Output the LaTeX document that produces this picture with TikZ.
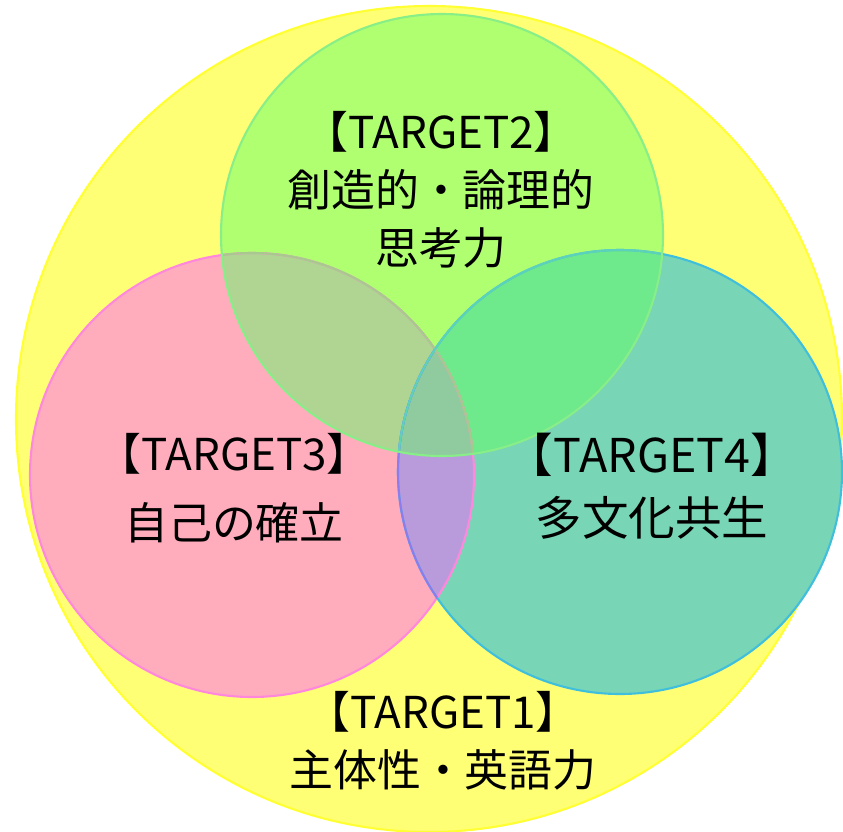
\documentclass[tikz,border=0pt]{standalone}
\usepackage{fontspec}
\setmainfont{Noto Sans CJK JP}
\usepackage{tikz}
\usetikzlibrary{positioning}

\definecolor{yfill}{HTML}{FFFF75}
\definecolor{yline}{HTML}{FFFF33}
\definecolor{pfill}{HTML}{FFADBC}
\definecolor{pline}{HTML}{FF88DD}
\definecolor{gfill}{HTML}{B0FF70}
\definecolor{gline}{HTML}{88EE88}
\definecolor{tfill}{HTML}{78D5B6}
\definecolor{tline}{HTML}{40BFDD}
\definecolor{gpfill}{HTML}{B0D592}
\definecolor{gtfill}{HTML}{6EE98B}
\definecolor{ptfill}{HTML}{B99BDC}
\definecolor{allfill}{HTML}{8FCB9F}

\def\ycirc{(429,419) circle[radius=413]}
\def\gcirc{(442,235) circle[radius=221]}
\def\pcirc{(252,475) circle[radius=222]}
\def\tcirc{(620,472) circle[radius=222]}

\begin{document}
\begin{tikzpicture}[x=0.02cm, y=-0.02cm,
rim/.style={line width=1.2pt},
tgtlabel/.style={align=center, text=black, font=\fontsize{25}{33}\selectfont}
]
    \useasboundingbox (0,0) rectangle (843,832);

    %Circles
    \fill[yfill] \ycirc;
    \draw[rim, yline] \ycirc;
    \fill[pfill] \pcirc;
    \fill[tfill] \tcirc;
    \fill[gfill] \gcirc;

    %Overlaps
    \begin{scope}
        \clip \gcirc;
        \fill[gpfill] \pcirc;
        \fill[gtfill] \tcirc;
        \clip \pcirc;
        \fill[allfill] \tcirc;
    \end{scope}
    \begin{scope}
        \clip \pcirc;
        \fill[ptfill] \tcirc;
        \clip \gcirc;
        \fill[allfill] \tcirc;
    \end{scope}

    %Rims
    \draw[rim, pline] \pcirc;
    \draw[rim, tline] \tcirc;
    \begin{scope}
        \clip \pcirc;
        \draw[rim, color=ptfill!60!blue!80!white] \tcirc;
    \end{scope}
    \begin{scope}
        \clip \gcirc;
        \draw[rim, color=gpfill!85!gray] \pcirc;
        \draw[rim, color=tline!60!gline] \tcirc;
    \end{scope}
    \draw[rim, gline] \gcirc;

    %Nodes
    \node[tgtlabel] (t2) at (441,190) {【TARGET2】\\創造的・論理的\\思考力};
    \node[tgtlabel] (t3) at (234,488) {【TARGET3】\\[6pt]自己の確立};
    \node[tgtlabel, font=\fontsize{26.5}{33}\selectfont]
        (t4) at (652,486) {【TARGET4】\\[3pt]多文化共生};
    \node[tgtlabel] (t1) at (443,741) {【TARGET1】\\主体性・英語力};
\end{tikzpicture}
\end{document}
